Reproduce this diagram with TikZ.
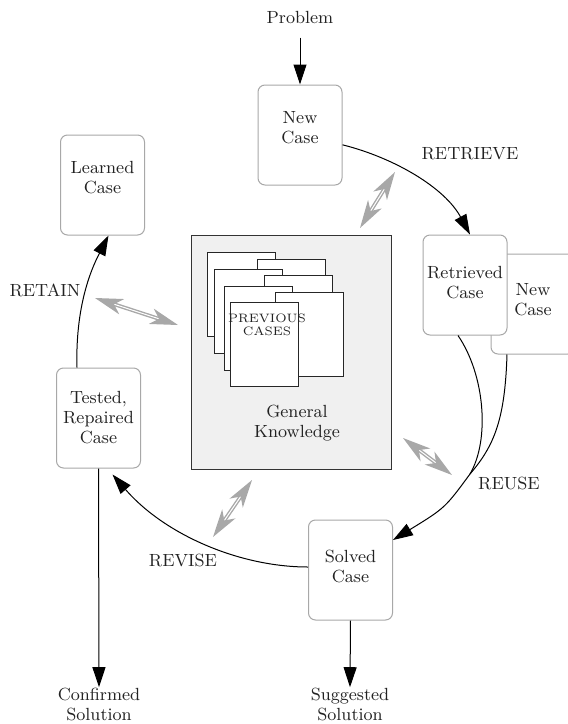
\documentclass[tikz,border=0pt]{standalone}
\usetikzlibrary{arrows.meta}
\definecolor{boxedge}{HTML}{A8A8A8}
\definecolor{kbfill}{HTML}{F0F0F0}
\definecolor{inkc}{HTML}{222222}
\definecolor{linkgray}{HTML}{A8A8A8}
\begin{document}
\begin{tikzpicture}[x=0.5pt, y=-0.5pt, font=\fontsize{8.8}{10}\selectfont, text=inkc,
  casebox/.style={draw=boxedge, line width=0.5pt, rounded corners=3.5pt, fill=white,
    minimum width=42pt, minimum height=50pt, inner sep=0pt},
  caption/.style={align=center, inner sep=0pt},
  flow/.style={draw=black, line width=0.5pt, -{Triangle[length=10pt,width=6.5pt]}},
  plainline/.style={draw=black, line width=0.5pt},
  kbhead/.style={Stealth[length=14pt,width=8pt,inset=4pt,fill=linkgray]},
  kbarrow/.style={draw=linkgray, line width=0.7pt, double=white, double distance=0.5pt,
    {Stealth[length=14pt,width=8pt,inset=4pt,fill=linkgray]}-{Stealth[length=14pt,width=8pt,inset=4pt,fill=linkgray]}},
  sheet/.style={draw=black!85, line width=0.5pt, fill=white,
    minimum width=34pt, minimum height=42pt, inner sep=0pt}]
\useasboundingbox (0,0) rectangle (568,724);

% knowledge base with the stack of stored cases
\node[draw=black!80, fill=kbfill, line width=0.5pt, minimum width=100pt,
  minimum height=117pt, inner sep=0pt] (kb) at (291,352) {};
\node[sheet] (p1) at (241.5,294) {};
\node[sheet] (p2) at (291.5,301) {};
\node[sheet] (p3) at (248,311) {};
\node[sheet] (p4) at (298.5,317) {};
\node[sheet] (p5) at (258.5,328) {};
\node[sheet] (p6) at (309.5,334) {};
\node[sheet] (p7) at (264.5,344.5) {};
\node[caption, font=\fontsize{6.1}{6.5}\selectfont] (prev) at (267,325) {PREVIOUS\\CASES};
\node[caption] (gk) at (297,423) {General\\Knowledge};

% case boxes
\node[caption] (problem) at (300,17) {Problem};
\node[casebox, label={[caption, yshift=3.5pt]center:New\\Case}] (newcase) at (300,135) {};
\node[casebox, label={[caption, yshift=2pt]center:New\\Case}] (newcase2) at (533,304) {};
\node[casebox, label={[caption, yshift=1pt]center:Retrieved\\Case}] (retrieved) at (465,285) {};
\node[casebox, label={[caption, yshift=2pt]center:Solved\\Case}] (solved) at (350.5,570) {};
\node[casebox, label={[caption]center:Tested,\\Repaired\\Case}] (tested) at (98.5,418) {};
\node[casebox, label={[caption, yshift=3.5pt]center:Learned\\Case}] (learned) at (102.5,185) {};
\node[caption] (confirmed) at (99,704) {Confirmed\\Solution};
\node[caption] (suggested) at (350,704) {Suggested\\Solution};

% stage names
\node[caption] (lretrieve) at (470,154) {RETRIEVE};
\node[caption] (lreuse) at (509,483) {REUSE};
\node[caption] (lrevise) at (183,560) {REVISE};
\node[caption] (lretain) at (45,290) {RETAIN};

% the cycle
\draw[flow] ([yshift=-7pt]problem.south) -- (newcase.north);
\draw[flow] (newcase.-13) .. controls (395,158) and (445,188) .. ([xshift=2.5pt]retrieved.north);
\coordinate (join) at (470,474);
\draw[plainline] ([xshift=-3.5pt]retrieved.south) .. controls (485,375) and (490,440) .. (join);
\draw[plainline] ([xshift=-13pt]newcase2.south) .. controls (505,420) and (494,446) .. (join);
\draw[flow] (join) .. controls (445,508) .. ([yshift=15pt]solved.east);
\draw[flow] ([yshift=1.5pt]solved.west) .. controls (240,567) and (165,535) .. ([xshift=7pt,yshift=-3pt]tested.south);
\draw[flow] ([xshift=-10.75pt]tested.north) .. controls (75,300) and (95,262) .. ([xshift=3pt]learned.south);
\draw[flow] (tested.south) -- (confirmed.north);
\draw[flow] (solved.south) -- (suggested.north);

% exchanges with the knowledge base
\coordinate (g1a) at (360,228);
\coordinate (g1b) at (395,172);
\coordinate (g2a) at (95,298);
\coordinate (g2b) at (178,325);
\coordinate (g3a) at (403,438);
\coordinate (g3b) at (452,475);
\coordinate (g4a) at (252,480);
\coordinate (g4b) at (213,537);
\draw[kbarrow] (g1a) -- (g1b);
\draw[kbarrow] (g2a) -- (g2b);
\draw[kbarrow] (g3a) -- (g3b);
\draw[kbarrow] (g4a) -- (g4b);
\end{tikzpicture}
\end{document}
